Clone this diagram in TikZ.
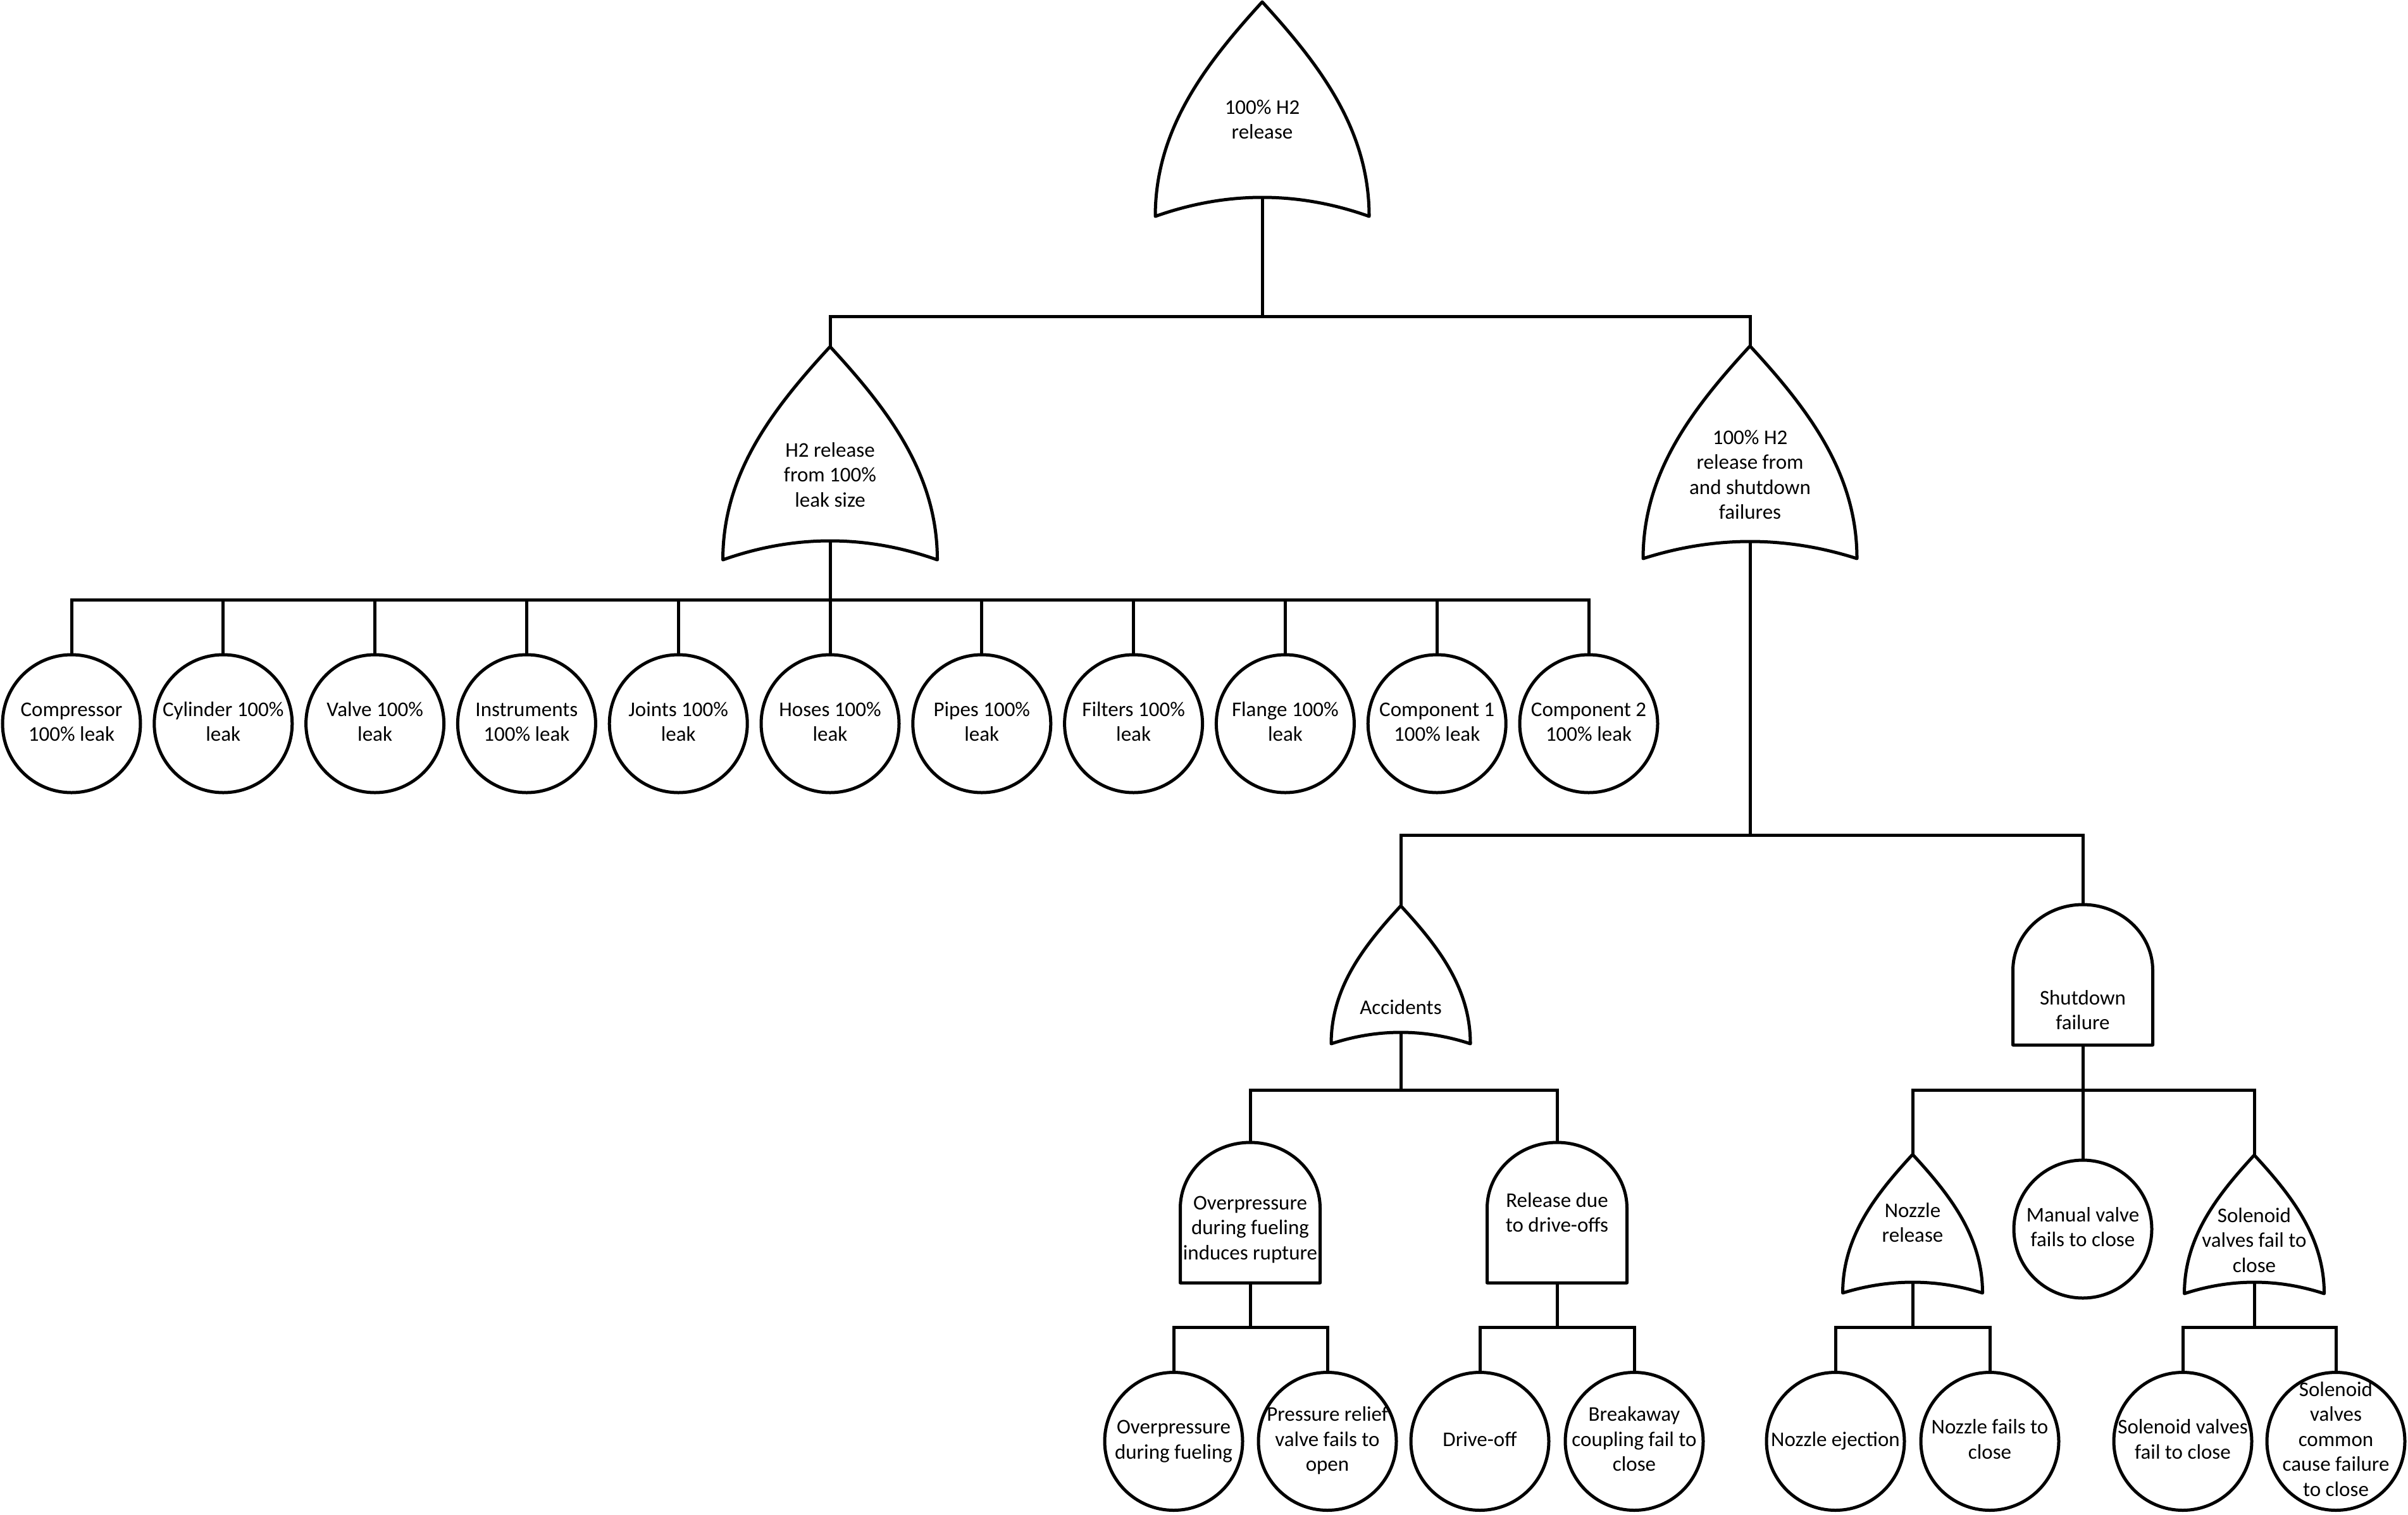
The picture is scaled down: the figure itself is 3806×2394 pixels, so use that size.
\documentclass[tikz,border=0pt]{standalone}
\usepackage{fontspec}
\setmainfont{Carlito}
% multi-line centred text; the [t] form has its baseline on the first line
\newcommand{\ml}[1]{\begin{tabular}{@{}c@{}}#1\end{tabular}}
\newcommand{\mlt}[1]{\begin{tabular}[t]{@{}c@{}}#1\end{tabular}}
\begin{document}
\begin{tikzpicture}[x=1pt, y=-1pt, line width=5pt,
  font=\fontsize{33}{39.5}\selectfont,
  gateline/.style={draw=black, line width=5pt, line join=round, fill=white},
  leaf/.style={circle, draw=black, line width=5pt, fill=white,
               minimum size=218pt, inner sep=0pt},
  lbl/.style={inner sep=0pt},
  gtxt/.style={anchor=base, inner sep=0pt},
  conn/.style={draw=black, line width=5pt},
  % OR gate: origin at the apex; #1 half width, #2 height, #3 sag of the base
  pics/orgate/.style n args={3}{code={
    \path[gateline] (0,0)
      .. controls (-0.55*#1,0.3*#2) and (-#1,0.6*#2) .. (-#1,#2)
      .. controls (-#1/3,#2-4*#3/3) and (#1/3,#2-4*#3/3) .. (#1,#2)
      .. controls (#1,0.6*#2) and (0.55*#1,0.3*#2) .. cycle;
    \coordinate (-in) at (0,0);
    \coordinate (-out) at (0,#2-#3);
  }},
  % AND gate: origin at the top; #1 half width, #2 height, #3 height of the dome
  pics/andgate/.style n args={3}{code={
    \path[gateline] (-#1,#2) -- (-#1,#3)
      .. controls (-#1,0.4477*#3) and (-0.5523*#1,0) .. (0,0)
      .. controls (0.5523*#1,0) and (#1,0.4477*#3) .. (#1,#3)
      -- (#1,#2) -- cycle;
    \coordinate (-in) at (0,0);
    \coordinate (-out) at (0,#2);
  }},
]
\fill[white] (0,0) rectangle (3806,2394);
\useasboundingbox (0,0) rectangle (3806,2394);

% ---------- gates ----------
\pic (top) at (1995,3)    {orgate={169}{339}{30}};
\pic (h2)  at (1312,548)  {orgate={169.5}{337}{30}};
\pic (sdf) at (2766,547)  {orgate={169}{336}{27}};
\pic (acc) at (2214,1432) {orgate={110}{218}{18}};
\pic (shd) at (3292,1430) {andgate={110.5}{222}{104}};
\pic (ovp) at (1976,1806) {andgate={110.5}{222}{104}};
\pic (rdo) at (2461,1806) {andgate={110.5}{222}{104}};
\pic (noz) at (3023,1825) {orgate={110.5}{219}{17}};
\pic (sol) at (3563,1826) {orgate={110.5}{219}{18}};

\node[gtxt] (top-t) at (1995,180)  {\mlt{100\% H2\\release}};
\node[gtxt] (h2-t)  at (1312,722)  {\mlt{H2 release\\from 100\%\\leak size}};
\node[gtxt] (sdf-t) at (2766,702)  {\mlt{100\% H2\\release from\\and shutdown\\failures}};
\node[gtxt] (acc-t) at (2214,1603) {\mlt{Accidents}};
\node[gtxt] (shd-t) at (3292,1588) {\mlt{Shutdown\\failure}};
\node[gtxt] (ovp-t) at (1976,1912) {\mlt{Overpressure\\during fueling\\induces rupture}};
\node[gtxt] (rdo-t) at (2461,1908) {\mlt{Release due\\to drive-offs}};
\node[gtxt] (noz-t) at (3023,1924) {\mlt{Nozzle\\release}};
\node[gtxt] (sol-t) at (3563,1932) {\mlt{Solenoid\\valves fail to\\close}};

% ---------- basic events, first row ----------
\node[leaf, label={[lbl]center:\ml{Compressor\\100\% leak}}]  (c1)  at (113,1144)    {};
\node[leaf, label={[lbl]center:\ml{Cylinder 100\%\\leak}}]    (c2)  at (352.8,1144)  {};
\node[leaf, label={[lbl]center:\ml{Valve 100\%\\leak}}]       (c3)  at (592.6,1144)  {};
\node[leaf, label={[lbl]center:\ml{Instruments\\100\% leak}}] (c4)  at (832.4,1144)  {};
\node[leaf, label={[lbl]center:\ml{Joints 100\%\\leak}}]      (c5)  at (1072.2,1144) {};
\node[leaf, label={[lbl]center:\ml{Hoses 100\%\\leak}}]       (c6)  at (1312,1144)   {};
\node[leaf, label={[lbl]center:\ml{Pipes 100\%\\leak}}]       (c7)  at (1551.8,1144) {};
\node[leaf, label={[lbl]center:\ml{Filters 100\%\\leak}}]     (c8)  at (1791.6,1144) {};
\node[leaf, label={[lbl]center:\ml{Flange 100\%\\leak}}]      (c9)  at (2031.4,1144) {};
\node[leaf, label={[lbl]center:\ml{Component 1\\100\% leak}}] (c10) at (2271.2,1144) {};
\node[leaf, label={[lbl]center:\ml{Component 2\\100\% leak}}] (c11) at (2511,1144)   {};

% ---------- basic events, lower levels ----------
\node[leaf, label={[lbl]center:\ml{Manual valve\\fails to close}}] (mv) at (3292,1943) {};
\node[leaf, label={[lbl]center:\ml{Overpressure\\during fueling}}] (e1) at (1855,2278.5) {};
\node[leaf, label={[lbl]center:\ml{Pressure relief\\valve fails to\\open}}] (e2) at (2098,2278.5) {};
\node[leaf, label={[lbl]center:\ml{Drive-off}}] (e3) at (2339,2278.5) {};
\node[leaf, label={[lbl]center:\ml{Breakaway\\coupling fail to\\close}}] (e4) at (2583,2278.5) {};
\node[leaf, label={[lbl]center:\ml{Nozzle ejection}}] (e5) at (2901,2278.5) {};
\node[leaf, label={[lbl]center:\ml{Nozzle fails to\\close}}] (e6) at (3145,2278.5) {};
\node[leaf, label={[lbl]center:\ml{Solenoid valves\\fail to close}}] (e7) at (3450,2278.5) {};
\node[leaf, label={[lbl]center:\ml{Solenoid\\valves\\common\\cause failure\\to close}}] (e8) at (3692,2278.5) {};

% ---------- bus points ----------
\coordinate (b0) at (1995,500);
\coordinate (b1) at (1312,948);
\coordinate (b2) at (2766,1320);
\coordinate (b3) at (2214,1723);
\coordinate (b4) at (3292,1723);
\coordinate (b5) at (1976,2098);
\coordinate (b6) at (2461,2098);
\coordinate (b7) at (3023,2098);
\coordinate (b8) at (3563,2098);

% ---------- connectors ----------
\draw[conn] (top-out) -- (b0);
\draw[conn] (b0) -| (h2-in);
\draw[conn] (b0) -| (sdf-in);

\draw[conn] (h2-out) -- (b1);
\foreach \c in {c1,c2,c3,c4,c5,c6,c7,c8,c9,c10,c11}
  \draw[conn] (b1) -| (\c.north);

\draw[conn] (sdf-out) -- (b2);
\draw[conn] (b2) -| (acc-in);
\draw[conn] (b2) -| (shd-in);

\draw[conn] (acc-out) -- (b3);
\draw[conn] (b3) -| (ovp-in);
\draw[conn] (b3) -| (rdo-in);

\draw[conn] (shd-out) -- (b4);
\draw[conn] (b4) -| (noz-in);
\draw[conn] (b4) -- (mv.north);
\draw[conn] (b4) -| (sol-in);

\draw[conn] (ovp-out) -- (b5);
\draw[conn] (b5) -| (e1.north);
\draw[conn] (b5) -| (e2.north);

\draw[conn] (rdo-out) -- (b6);
\draw[conn] (b6) -| (e3.north);
\draw[conn] (b6) -| (e4.north);

\draw[conn] (noz-out) -- (b7);
\draw[conn] (b7) -| (e5.north);
\draw[conn] (b7) -| (e6.north);

\draw[conn] (sol-out) -- (b8);
\draw[conn] (b8) -| (e7.north);
\draw[conn] (b8) -| (e8.north);
\end{tikzpicture}
\end{document}
